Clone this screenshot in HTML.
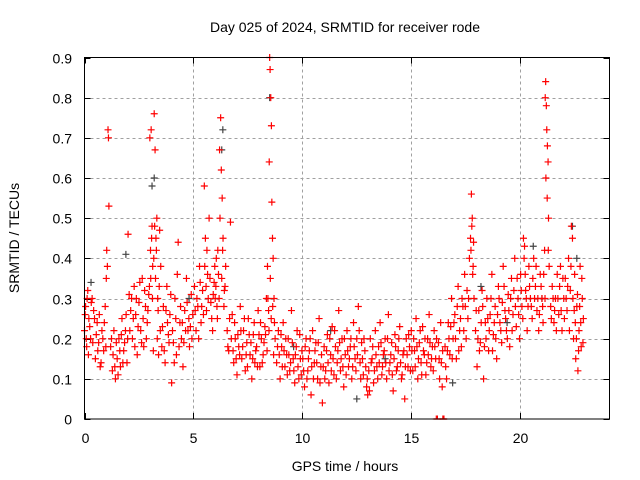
<!DOCTYPE html>
<html><head><meta charset="utf-8"><style>
html,body{margin:0;padding:0;background:#fff;}
svg{display:block;font-family:"Liberation Sans",sans-serif;}
</style></head><body>
<svg id="chart" width="640" height="480" xmlns="http://www.w3.org/2000/svg">
<rect x="0" y="0" width="640" height="480" fill="#fff"/>
<text x="345" y="32" text-anchor="middle" font-size="14" fill="#000">Day 025 of 2024, SRMTID for receiver rode</text>
<text x="345" y="471" text-anchor="middle" font-size="14" fill="#000">GPS time / hours</text>
<text transform="translate(19,238) rotate(-90)" text-anchor="middle" font-size="14" fill="#000">SRMTID / TECUs</text>
<g id="grid"></g>
<g id="ticks"></g>
<g id="blk"></g>
<g id="red"></g>
<rect x="84.5" y="57.5" width="525" height="361.5" fill="none" stroke="#000" stroke-width="1"/>
</svg>
<script>
const xTicks=[0,5,10,15,20];
const yTicks=[0,0.1,0.2,0.3,0.4,0.5,0.6,0.7,0.8,0.9];
const yTickLabels=["0","0.1","0.2","0.3","0.4","0.5","0.6","0.7","0.8","0.9"];
const redHours=[
0.0,0.05,0.1,0.15,0.2,0.28,0.35,0.42,0.5,0.58,0.65,0.72,0.8,0.88,0.95,
1.0,1.02,1.05,1.08,1.1,1.12,
1.2,1.28,1.35,1.42,1.5,1.58,1.65,1.72,1.8,1.88,1.95,
2.0,2.05,2.12,2.2,2.28,2.35,2.42,2.5,2.58,2.65,2.72,2.8,2.88,2.95,
3.0,3.03,3.06,3.1,3.13,3.16,3.2,3.24,3.28,3.32,3.36,3.4,3.45,3.5,
3.55,3.62,3.7,3.78,3.85,3.92,4.0,4.08,4.15,4.22,4.3,4.38,4.45,4.52,4.6,4.68,4.75,4.82,4.9,4.97,
5.05,5.12,5.2,5.28,5.35,5.42,5.5,5.55,5.6,5.65,5.72,5.8,5.88,5.95,
6.0,6.05,6.1,6.15,6.2,6.25,6.28,6.32,6.36,6.42,6.48,
6.55,6.62,6.7,6.78,6.85,6.92,7.0,7.08,7.15,7.22,7.3,7.38,7.45,7.52,7.6,7.68,7.75,7.82,7.9,7.97,8.05,8.12,8.2,8.28,8.35,
8.4,8.45,8.48,8.5,8.52,8.55,8.58,8.6,8.63,8.66,8.7,8.75,
8.82,8.9,8.98,9.05,9.12,9.2,9.28,9.35,9.42,9.5,9.58,9.65,9.72,9.8,9.88,9.95,
10.02,10.1,10.17,10.25,10.32,10.4,10.47,10.55,10.62,10.7,10.77,10.85,10.92,11.0,11.07,11.15,11.22,11.3,11.37,11.45,11.52,11.6,11.67,11.75,11.82,11.9,11.97,
12.05,12.12,12.2,12.27,12.35,12.42,12.5,12.57,12.65,12.72,12.8,12.87,12.95,13.0,13.05,13.12,13.2,13.27,13.35,13.42,13.5,13.57,13.65,13.72,13.8,13.87,13.95,
14.02,14.1,14.17,14.25,14.32,14.4,14.47,14.55,14.62,14.7,14.77,14.85,14.92,
15.0,15.07,15.15,15.22,15.3,15.37,15.45,15.52,15.6,15.67,15.75,15.82,15.9,15.97,16.05,16.12,16.15,16.2,16.25,16.3,16.35,16.42,16.45,16.48,16.5,
16.55,16.62,16.7,16.77,16.85,16.92,17.0,17.07,17.15,17.22,17.3,17.37,17.45,17.52,17.6,17.67,
17.72,17.76,17.8,17.84,17.88,
17.95,18.02,18.1,18.17,18.25,18.32,18.4,18.47,18.55,18.62,18.7,18.77,18.85,18.92,19.0,19.07,19.15,19.22,19.3,19.37,19.45,19.52,19.6,19.67,19.75,19.82,19.9,19.97,
20.02,20.08,20.15,20.2,20.25,20.32,20.4,20.47,20.55,20.62,20.7,20.77,20.85,20.92,21.0,21.05,
21.12,21.15,21.17,21.2,21.22,21.25,21.28,21.3,21.33,
21.4,21.47,21.55,21.62,21.7,21.77,21.85,21.92,22.0,22.07,22.15,22.22,22.3,22.35,22.4,22.45,22.5,22.55,22.6,22.65,22.7,22.75,22.8,22.85,22.9
];
const redTecu=[
0.22,0.28,0.18,0.32,0.25,0.20,0.30,0.27,0.15,0.24,0.19,0.13,0.22,0.17,0.28,
0.35,0.42,0.38,0.72,0.70,0.53,
0.18,0.12,0.22,0.10,0.15,0.20,0.13,0.25,0.17,0.22,0.14,
0.46,0.31,0.27,0.20,0.33,0.26,0.16,0.29,0.22,0.35,0.18,0.28,0.24,0.31,
0.70,0.42,0.72,0.48,0.38,0.17,0.76,0.67,0.45,0.50,0.30,0.16,0.47,0.38,
0.18,0.28,0.14,0.33,0.21,0.26,0.09,0.19,0.30,0.16,0.44,0.24,0.20,0.13,0.27,0.35,0.22,0.18,0.31,0.26,
0.33,0.22,0.28,0.38,0.24,0.32,0.58,0.45,0.27,0.36,0.50,0.29,0.22,0.34,
0.30,0.40,0.25,0.36,0.67,0.75,0.62,0.55,0.45,0.32,0.38,
0.22,0.17,0.49,0.26,0.14,0.20,0.11,0.18,0.28,0.15,0.22,0.12,0.19,0.25,0.16,0.10,0.21,0.14,0.18,0.27,0.13,0.20,0.16,0.23,0.30,
0.38,0.27,0.64,0.90,0.87,0.80,0.73,0.54,0.45,0.40,0.30,0.20,
0.14,0.22,0.10,0.18,0.24,0.13,0.16,0.20,0.12,0.27,0.15,0.09,0.18,0.13,0.21,0.11,
0.15,0.08,0.20,0.12,0.17,0.06,0.22,0.14,0.19,0.10,0.25,0.13,0.04,0.18,0.12,0.21,0.09,0.16,0.23,0.11,0.18,0.14,0.27,0.12,0.20,0.08,0.16,
0.22,0.13,0.18,0.10,0.24,0.15,0.20,0.28,0.14,0.19,0.11,0.17,0.08,0.06,0.12,0.20,0.15,0.09,0.22,0.13,0.18,0.24,0.11,0.16,0.20,0.10,0.26,
0.14,0.19,0.07,0.21,0.12,0.17,0.23,0.10,0.16,0.05,0.20,0.13,0.18,
0.22,0.12,0.17,0.25,0.10,0.19,0.14,0.23,0.16,0.11,0.20,0.26,0.13,0.18,0.22,0.15,0.0,0.0,0.19,0.10,0.24,0.08,0.0,0.0,0.0,
0.18,0.10,0.24,0.16,0.30,0.20,0.26,0.15,0.33,0.22,0.18,0.28,0.36,0.20,0.25,0.40,
0.45,0.56,0.50,0.38,0.30,
0.22,0.13,0.27,0.19,0.32,0.10,0.24,0.30,0.17,0.26,0.36,0.21,0.28,0.15,0.33,0.24,0.19,0.38,0.27,0.22,0.31,0.18,0.35,0.26,0.40,0.23,0.30,0.20,
0.36,0.28,0.45,0.43,0.32,0.22,0.38,0.30,0.25,0.40,0.33,0.27,0.22,0.36,0.30,0.24,
0.42,0.80,0.84,0.78,0.72,0.68,0.64,0.50,0.38,
0.28,0.33,0.24,0.30,0.36,0.26,0.38,0.22,0.30,0.35,0.27,0.40,0.32,0.48,0.45,0.20,0.36,0.15,0.28,0.12,0.22,0.38,0.18,0.30,0.25
];
const extraHours=[
0.03,0.08,0.12,0.18,0.24,0.31,0.38,0.46,0.54,0.61,0.68,0.76,0.84,0.91,0.98,
1.24,1.31,1.39,1.46,1.54,1.62,1.69,1.76,1.84,1.91,1.98,
2.08,2.16,2.24,2.31,2.38,2.46,2.54,2.62,2.69,2.76,2.84,2.91,2.98,
3.04,3.08,3.12,3.18,3.22,3.26,3.3,3.34,3.38,3.43,3.48,
3.58,3.66,3.74,3.81,3.88,3.96,4.04,4.12,4.19,4.26,4.34,4.41,4.49,4.56,4.64,4.71,4.79,4.86,4.93,
5.08,5.16,5.24,5.31,5.38,5.46,5.52,5.58,5.62,5.68,5.76,5.84,5.91,5.98,
6.03,6.08,6.12,6.18,6.22,6.3,6.34,6.4,6.45,
6.58,6.66,6.74,6.82,6.89,6.96,7.04,7.12,7.18,7.26,7.34,7.42,7.48,7.56,7.64,7.72,7.79,7.86,7.94,8.01,8.08,8.16,8.24,8.31,8.38,
8.42,8.47,8.53,8.57,8.64,8.68,8.72,
8.86,8.94,9.02,9.08,9.16,9.24,9.31,9.38,9.46,9.54,9.61,9.68,9.76,9.84,9.91,9.98,
10.06,10.13,10.21,10.28,10.36,10.43,10.51,10.58,10.66,10.73,10.81,10.88,10.96,11.03,11.11,11.18,11.26,11.33,11.41,11.48,11.56,11.63,11.71,11.78,11.86,11.93,
12.01,12.08,12.16,12.23,12.31,12.38,12.46,12.53,12.61,12.68,12.76,12.83,12.91,12.98,13.08,13.16,13.23,13.31,13.38,13.46,13.53,13.61,13.68,13.76,13.83,13.91,13.98,
14.06,14.13,14.21,14.28,14.36,14.43,14.51,14.58,14.66,14.73,14.81,14.88,14.96,
15.03,15.11,15.18,15.26,15.33,15.41,15.48,15.56,15.63,15.71,15.78,15.86,15.93,16.01,16.08,16.16,16.28,16.38,16.44,
16.58,16.66,16.73,16.81,16.88,16.96,17.03,17.11,17.18,17.26,17.33,17.41,17.48,17.56,17.63,
17.74,17.78,17.82,17.86,
17.98,18.06,18.13,18.21,18.28,18.36,18.43,18.51,18.58,18.66,18.73,18.81,18.88,18.96,19.03,19.11,19.18,19.26,19.33,19.41,19.48,19.56,19.63,19.71,19.78,19.86,19.93,
20.05,20.12,20.18,20.23,20.28,20.36,20.43,20.51,20.58,20.66,20.73,20.81,20.88,20.96,21.03,21.08,
21.14,21.18,21.24,21.29,
21.43,21.51,21.58,21.66,21.73,21.81,21.88,21.96,22.03,22.11,22.18,22.26,22.33,22.42,22.48,22.53,22.58,22.63,22.68,22.73,22.78,22.83,22.88
];
const extraTecu=[
0.26,0.20,0.30,0.16,0.23,0.29,0.19,0.25,0.21,0.17,0.26,0.14,0.20,0.24,0.18,
0.20,0.16,0.13,0.19,0.11,0.17,0.21,0.14,0.19,0.26,0.20,
0.22,0.30,0.25,0.18,0.30,0.23,0.34,0.19,0.25,0.32,0.20,0.27,0.33,
0.35,0.45,0.30,0.40,0.48,0.35,0.42,0.20,0.27,0.33,0.22,
0.23,0.17,0.27,0.24,0.19,0.31,0.22,0.14,0.25,0.36,0.18,0.28,0.24,0.19,0.22,0.29,0.25,0.23,0.20,
0.27,0.30,0.20,0.34,0.28,0.26,0.38,0.33,0.42,0.30,0.35,0.25,0.31,0.38,
0.33,0.28,0.42,0.30,0.50,0.35,0.42,0.28,0.33,
0.18,0.25,0.20,0.17,0.24,0.15,0.21,0.16,0.22,0.18,0.25,0.16,0.13,0.21,0.19,0.15,0.24,0.17,0.13,0.21,0.24,0.14,0.19,0.21,0.17,
0.30,0.22,0.35,0.25,0.28,0.16,0.24,
0.18,0.16,0.21,0.13,0.17,0.20,0.11,0.16,0.14,0.19,0.12,0.16,0.22,0.10,0.15,0.17,
0.12,0.18,0.10,0.15,0.20,0.13,0.10,0.17,0.14,0.19,0.09,0.16,0.13,0.10,0.17,0.14,0.20,0.12,0.15,0.22,0.10,0.17,0.19,0.15,0.13,0.20,
0.11,0.17,0.15,0.20,0.13,0.18,0.12,0.16,0.22,0.10,0.15,0.20,0.13,0.10,0.07,0.14,0.18,0.12,0.16,0.10,0.14,0.19,0.13,0.17,0.14,0.20,0.12,
0.16,0.11,0.15,0.18,0.13,0.20,0.14,0.11,0.17,0.13,0.16,0.21,0.12,
0.17,0.20,0.13,0.18,0.15,0.22,0.11,0.17,0.20,0.14,0.16,0.19,0.15,0.12,0.18,0.20,0.15,0.14,0.17,
0.13,0.17,0.20,0.23,0.15,0.24,0.20,0.28,0.17,0.25,0.30,0.22,0.28,0.32,0.30,
0.42,0.48,0.36,0.44,
0.27,0.20,0.17,0.24,0.28,0.18,0.20,0.25,0.22,0.30,0.17,0.24,0.20,0.26,0.30,0.22,0.29,0.33,0.25,0.20,0.27,0.30,0.22,0.32,0.28,0.35,0.26,
0.32,0.25,0.40,0.36,0.30,0.28,0.33,0.28,0.35,0.30,0.38,0.30,0.26,0.33,0.28,0.36,
0.30,0.60,0.55,0.42,
0.25,0.30,0.27,0.22,0.30,0.33,0.27,0.35,0.25,0.30,0.33,0.22,0.38,0.30,0.27,0.24,0.20,0.31,0.17,0.28,0.24,0.35,0.19
];
const blackHours=[0.3,1.9,3.1,3.2,4.8,6.3,6.35,8.5,9.6,11.3,12.5,13.8,16.9,18.2,19.4,20.6,21.0,22.4,22.6];
const blackTecu=[0.34,0.41,0.58,0.60,0.30,0.67,0.72,0.80,0.18,0.22,0.05,0.15,0.09,0.33,0.24,0.43,0.30,0.48,0.40];

const X0=84.5,X1=609.5,XMAX=24.1,Y0=419,Y1=57.5,YMAX=0.9;
function sx(h){return X0+(h/XMAX)*(X1-X0);}
function sy(v){return Y0-(v/YMAX)*(Y0-Y1);}
const NS="http://www.w3.org/2000/svg";
function mk(tag,attrs,parent){const e=document.createElementNS(NS,tag);for(const k in attrs)e.setAttribute(k,attrs[k]);parent.appendChild(e);return e;}
const grid=document.getElementById('grid'),ticks=document.getElementById('ticks');
yTicks.forEach((v,i)=>{
  const y=Math.round(sy(v))+0.5;
  if(v>0&&v<YMAX){const g=mk('line',{x1:X0,x2:X1,y1:y,y2:y,stroke:'#a0a0a0','stroke-dasharray':'3,3'},grid);
  
  }
  mk('line',{x1:X0,x2:X0+6,y1:y,y2:y,stroke:'#000'},ticks);
  mk('line',{x1:X1-6,x2:X1,y1:y,y2:y,stroke:'#000'},ticks);
  const t=mk('text',{x:72,y:y+5,'text-anchor':'end','font-size':'14',fill:'#000'},ticks);
  t.textContent=yTickLabels[i];
  
  
});
xTicks.forEach(h=>{
  const x=Math.round(sx(h))+0.5;
  if(h>0){const g=mk('line',{x1:x,x2:x,y1:Y1,y2:Y0,stroke:'#a0a0a0','stroke-dasharray':'3,3'},grid);
  
  }
  mk('line',{x1:x,x2:x,y1:Y0,y2:Y0-6,stroke:'#000'},ticks);
  mk('line',{x1:x,x2:x,y1:Y1,y2:Y1+6,stroke:'#000'},ticks);
  const t=mk('text',{x:x,y:443,'text-anchor':'middle','font-size':'14',fill:'#000'},ticks);
  t.textContent=String(h);
  
  
});
function plus(parent,h,v,col,name){
  const x=sx(h),y=Math.min(sy(v),Y0);
  const p=mk('path',{d:`M${x-3.5},${y}H${x+3.5}M${x},${y-3.5}V${Math.min(y+3.5,Y0)}`,stroke:col,'stroke-width':'1.2',fill:'none'},parent);
  
  
}
const blk=document.getElementById('blk'),red=document.getElementById('red');
blackHours.forEach((h,i)=>plus(blk,h,blackTecu[i],'#444','black-point'));
redHours.forEach((h,i)=>plus(red,h,redTecu[i],'#ff0000','red-point'));
extraHours.forEach((h,i)=>plus(red,h,extraTecu[i],'#ff0000','red-point'));
</script>
</body></html>
